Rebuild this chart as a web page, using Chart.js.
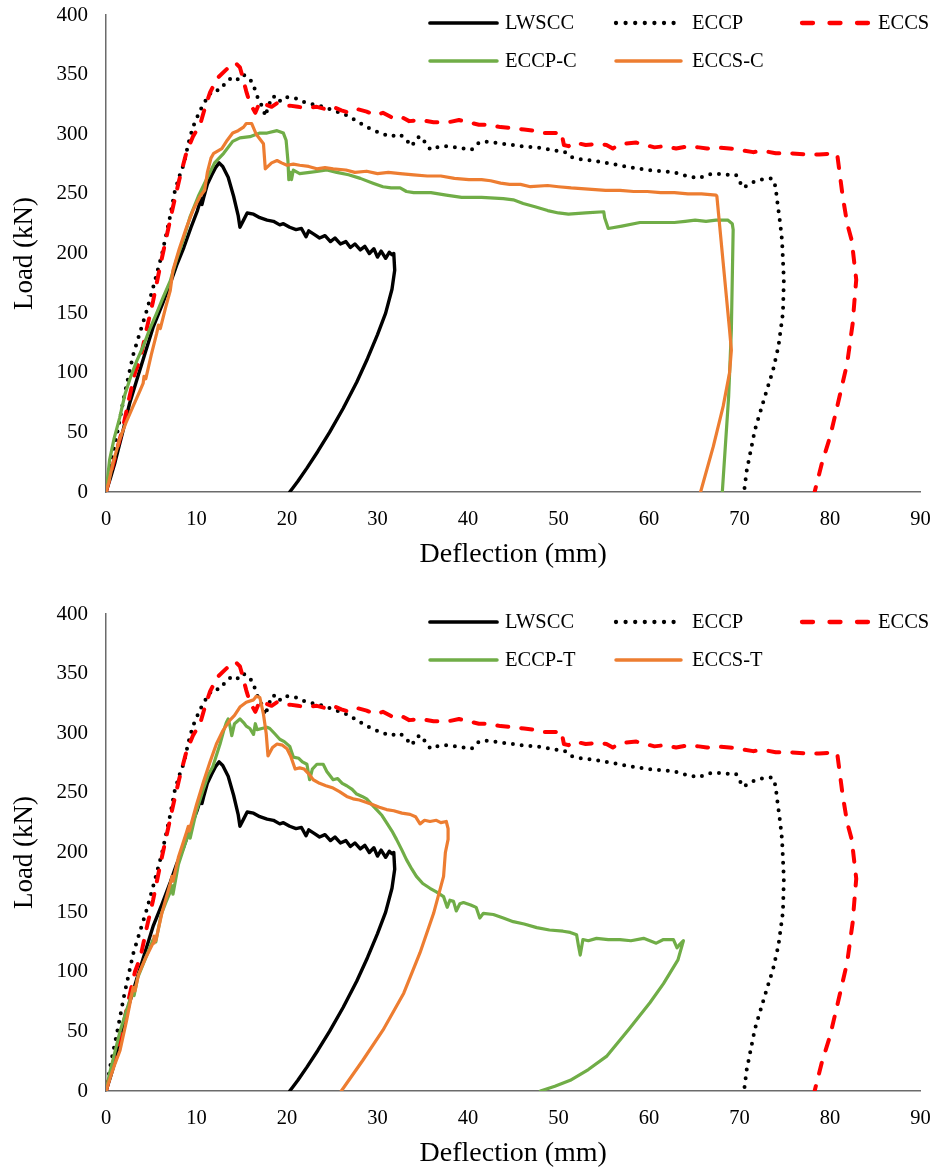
<!DOCTYPE html>
<html><head><meta charset="utf-8">
<script src="https://cdn.jsdelivr.net/npm/chart.js@4.4.1/dist/chart.umd.min.js"></script>
<style>
html,body{margin:0;padding:0;background:#fff;width:938px;height:1167px;overflow:hidden;position:relative;}
canvas{position:absolute;left:0;}
#c1{top:0}
#c2{top:599px}
</style></head><body>
<canvas id="c1" width="938" height="575"></canvas>
<canvas id="c2" width="938" height="575"></canvas>
<script>
// ---- tick labels ----
const xTicks = [0, 10, 20, 30, 40, 50, 60, 70, 80, 90];
const yTicks = [0, 50, 100, 150, 200, 250, 300, 350, 400];
const xTitle = 'Deflection (mm)';
const yTitle = 'Load (kN)';

// ---- series: [deflection (mm), load (kN)] ----
const lwscc = [[0,0],[0.5,12],[1.0,25],[1.9,52],[2.6,74],[3.4,94],[4.3,116],[5.2,138],[6.2,157],[7.1,175],[7.8,190],[8.6,205],[9.4,222],[10.1,236],[10.5,246],[10.6,241],[10.8,247],[11.2,258],[11.7,266],[12.1,272],[12.5,276],[12.9,273],[13.5,264],[14.1,248],[14.6,232],[14.8,222],[15.2,228],[15.6,234],[16.3,233],[17.0,230],[17.8,228],[18.5,227],[19.2,224],[19.6,225],[20.3,222],[21.0,220],[21.6,221],[22.1,214],[22.4,219],[23.0,216],[23.6,213],[24.2,215],[24.8,210],[25.3,213],[25.9,208],[26.5,210],[27.0,205],[27.5,208],[28.1,203],[28.6,206],[29.1,200],[29.6,204],[30.0,197],[30.4,202],[30.9,196],[31.3,201],[31.6,199],[31.8,200],[31.9,186],[31.6,170],[30.9,150],[30.0,132],[28.9,112],[27.7,92],[26.2,70],[24.7,50],[23.4,34],[22.2,20],[21.2,9],[20.6,3],[20.3,0]];

const eccp = [[0,0],[0.5,22],[1.2,48],[2.0,80],[3.0,115],[3.8,135],[4.5,152],[5.4,177],[6.2,200],[7.0,228],[7.6,252],[8.2,267],[8.6,275],[9.1,292],[9.6,306],[10.4,320],[11.2,331],[11.8,337],[12.6,337],[13.3,344],[14.0,348],[14.6,346],[15.1,350],[15.7,348],[16.2,343],[16.8,330],[17.4,321],[17.6,315],[18.0,325],[18.5,332],[19.1,327],[19.6,331],[20.3,331],[21.0,330],[21.9,327],[22.9,325],[24.0,323],[25.1,320],[26.3,317],[27.5,312],[28.8,306],[30.0,302],[31.4,298],[32.5,300],[33.2,295],[33.8,290],[34.3,297],[34.9,298],[35.4,291],[35.9,287],[36.6,289],[37.4,290],[38.7,289],[40.4,287],[41.0,292],[41.6,294],[42.8,293],[43.9,292],[45.8,290],[47.6,289],[49.2,287],[50.7,285],[51.3,281],[52.5,279],[53.7,278],[55.2,276],[56.7,274],[58.2,272],[59.8,270],[61.3,269],[62.8,268],[64.2,265],[65.5,263],[66.4,266],[67.4,267],[68.5,266],[69.6,266],[70.4,255],[71.2,259],[72.3,262],[73.6,263],[74.0,256],[74.1,248],[74.5,225],[74.7,211],[74.9,178],[74.8,150],[74.3,122],[73.7,102],[72.8,80],[71.7,52],[70.8,18],[70.5,0]];

const eccs = [[0,0],[0.6,18],[1.2,35],[1.9,55],[2.6,80],[3.2,100],[3.8,112],[4.5,137],[5.2,160],[6.0,190],[6.8,218],[7.4,239],[8.1,262],[8.9,285],[9.6,298],[10.4,308],[11.0,324],[11.5,335],[12.3,347],[13.4,355],[14.3,360],[14.8,356],[15.1,348],[15.5,336],[15.9,326],[16.5,318],[17.0,327],[17.6,325],[18.3,323],[18.9,326],[19.6,324],[20.3,324],[21.2,323],[22.2,322],[23.3,323],[24.3,321],[25.1,323],[26.0,320],[26.9,318],[27.8,321],[28.8,319],[29.8,316],[30.6,318],[31.6,314],[32.5,315],[33.5,311],[34.8,312],[36.2,310],[37.8,310],[39.0,312],[40.1,310],[41.2,308],[42.3,308],[43.6,306],[45.0,305],[46.2,304],[47.3,303],[48.4,301],[49.7,301],[50.3,302],[50.6,291],[51.1,290],[51.8,293],[53.0,291],[54.5,292],[55.3,291],[56.0,288],[56.6,291],[57.3,292],[58.6,293],[59.6,291],[60.6,289],[61.7,290],[63.0,288],[64.3,290],[65.5,289],[66.4,288],[67.4,289],[68.9,288],[70.0,287],[71.5,285],[72.7,286],[74.0,284],[75.7,284],[77.5,283],[78.8,283],[80.6,284],[80.8,283],[81.4,248],[81.9,225],[82.4,211],[82.9,178],[82.7,160],[82.5,141],[81.9,108],[80.9,75],[80.0,46],[79.1,24],[78.3,0]];

const eccpC = [[0,0],[0.4,27],[0.9,45],[1.5,62],[2.1,82],[2.7,96],[3.4,110],[4.1,122],[4.8,136],[5.6,150],[6.3,163],[7.1,177],[7.8,195],[8.6,213],[9.3,231],[10.2,248],[11.1,262],[12.0,276],[13.0,284],[14.0,294],[14.8,297],[15.9,298],[17.0,301],[17.8,301],[18.9,303],[19.6,301],[19.9,295],[20.1,278],[20.2,262],[20.4,268],[20.5,262],[20.7,270],[21.4,267],[22.5,268],[23.5,269],[24.4,270],[25.5,268],[26.8,266],[28.1,263],[29.5,259],[30.6,256],[31.5,255],[32.5,255],[33.2,252],[34.0,251],[35.9,251],[37.6,249],[39.3,247],[41.5,247],[43.9,246],[45.0,245],[46.1,242],[47.5,239],[48.8,236],[50.0,234],[51.1,233],[53.0,234],[55.0,235],[55.1,230],[55.5,221],[57.0,223],[59.0,226],[60.8,226],[62.8,226],[64.0,227],[65.1,228],[66.3,227],[67.4,228],[68.7,228],[69.2,225],[69.3,220],[69.1,136],[68.8,80],[68.1,0]];

const eccsC = [[0,0],[0.3,8],[0.8,25],[1.5,44],[2.2,58],[3.0,72],[3.7,84],[4.1,91],[4.2,97],[4.4,95],[5.0,115],[5.6,133],[5.8,140],[6.0,137],[6.6,155],[7.1,169],[7.4,186],[8.1,204],[8.9,222],[9.6,236],[10.4,248],[10.9,253],[11.2,268],[11.6,280],[11.9,284],[12.8,288],[13.4,295],[14.0,301],[14.6,303],[15.2,306],[15.5,309],[16.1,309],[16.6,300],[17.0,296],[17.4,292],[17.6,271],[18.3,276],[18.9,278],[19.4,276],[20.0,274],[20.7,275],[21.4,274],[22.4,273],[23.3,271],[24.2,272],[25.1,271],[26.5,270],[27.5,268],[28.8,269],[30.0,267],[31.2,268],[32.5,267],[34.0,266],[35.5,265],[37.0,265],[38.5,263],[40.1,262],[41.5,262],[42.5,261],[43.6,259],[44.6,258],[45.8,258],[46.9,256],[48.8,257],[50.0,256],[51.4,255],[53.3,254],[55.2,253],[56.8,253],[58.3,252],[59.8,252],[61.3,251],[62.8,251],[64.3,250],[65.8,250],[67.4,249],[67.5,248],[68.2,192],[68.9,136],[69.1,119],[68.9,100],[68.2,72],[67.1,38],[65.7,0]];

const eccpT = [[0,0],[0.4,15],[0.9,30],[1.55,50],[2.2,66],[2.8,80],[3.0,84],[3.1,80],[3.5,95],[4.3,110],[5.2,127],[5.5,125],[6.1,148],[6.6,158],[7.1,167],[7.3,172],[7.4,165],[8.0,190],[8.9,211],[9.2,216],[9.3,212],[10.0,235],[10.8,254],[11.3,265],[11.8,272],[12.6,291],[13.0,302],[13.3,309],[13.5,312],[13.7,306],[13.9,298],[14.2,308],[14.8,312],[15.2,309],[15.5,306],[15.9,304],[16.3,299],[16.5,308],[16.7,303],[17.2,304],[17.8,305],[18.1,304],[18.6,300],[19.2,295],[19.7,293],[20.3,289],[20.7,280],[21.3,279],[21.7,276],[22.2,274],[22.5,261],[22.8,270],[23.3,274],[24.0,274],[24.4,268],[25.1,261],[25.6,262],[26.1,258],[26.6,256],[27.2,253],[27.7,249],[28.3,247],[28.8,245],[29.4,240],[29.9,236],[30.5,231],[31.0,225],[31.6,218],[32.1,211],[32.7,202],[33.2,194],[33.8,186],[34.3,180],[35.0,174],[35.8,170],[36.5,167],[37.3,163],[37.7,154],[38.0,160],[38.4,159],[38.7,151],[39.1,157],[39.5,158],[40.3,156],[40.9,154],[41.3,145],[41.7,149],[42.8,148],[43.9,145],[45.0,142],[46.2,140],[47.6,137],[49.0,135],[50.5,134],[51.3,133],[52.0,131],[52.2,122],[52.4,114],[52.7,127],[53.3,126],[54.2,128],[55.5,127],[56.8,127],[58.0,126],[59.4,128],[60.1,126],[60.8,124],[61.6,127],[62.7,127],[63.1,120],[63.4,123],[63.8,126],[63.2,110],[61.6,90],[60.1,74],[57.8,52],[55.3,29],[53.3,18],[51.3,9],[49.6,4],[48.0,0]];

const eccsT = [[0,0],[0.5,12],[1.0,23],[1.55,34],[2.3,60],[3.0,87],[3.2,84],[3.6,98],[4.4,112],[5.2,124],[5.3,130],[5.5,126],[6.2,150],[7.1,174],[7.3,180],[7.4,176],[8.0,196],[8.9,217],[9.1,222],[9.2,218],[10.0,240],[10.8,260],[11.5,276],[12.2,291],[12.9,302],[13.7,311],[14.2,315],[14.8,322],[15.5,326],[16.3,328],[16.6,331],[17.0,330],[17.4,316],[17.7,300],[17.9,281],[18.4,288],[18.9,291],[19.5,290],[20.0,287],[20.4,281],[20.9,270],[21.4,271],[21.9,270],[22.4,266],[22.9,261],[23.6,258],[24.3,256],[25.1,254],[25.8,251],[26.6,247],[27.3,245],[28.0,244],[28.8,242],[29.5,240],[30.2,238],[31.0,236],[31.8,235],[32.7,233],[33.6,232],[34.2,230],[34.7,224],[35.2,227],[35.8,226],[36.5,227],[37.0,225],[37.6,226],[37.8,220],[37.8,211],[37.5,200],[37.3,180],[36.2,149],[34.7,116],[32.9,82],[30.6,51],[28.4,26],[27.2,13],[26.0,0]];

// ---- styling ----
const toPts = arr => arr.map(p => ({x: p[0], y: p[1]}));
function ds(label, arr, style, order) {
  return Object.assign({
    label, data: toPts(arr), showLine: true, pointRadius: 0, pointHoverRadius: 0,
    tension: 0, fill: false, borderJoinStyle: 'round', order
  }, style);
}
const sBlack  = {borderColor: '#000000', borderWidth: 3.4, borderCapStyle: 'round'};
const sDotted = {borderColor: '#000000', borderWidth: 4, borderDash: [0, 8.8], borderCapStyle: 'round', legendDash: [0, 9.6]};
const sDashed = {borderColor: '#FF0000', borderWidth: 4, borderDash: [11, 13], borderCapStyle: 'round', legendDash: [11, 16.5]};
const sGreen  = {borderColor: '#70AD47', borderWidth: 3.2, borderCapStyle: 'round'};
const sOrange = {borderColor: '#ED7D31', borderWidth: 3.2, borderCapStyle: 'round'};

const legendPlugin = {
  id: 'inLegend',
  afterDraw(chart) {
    const ctx = chart.ctx;
    const rowsY = [23, 61];
    const x0 = [430, 616, 802], x1 = [497, 681, 870], tx = [505, 692, 878];
    chart.data.datasets.forEach((d, i) => {
      const r = Math.floor(i / 3), c = i % 3, y = rowsY[r];
      ctx.save();
      ctx.strokeStyle = d.borderColor;
      ctx.lineWidth = d.borderWidth + 0.3;
      ctx.lineCap = d.borderCapStyle || 'butt';
      ctx.setLineDash(d.legendDash || d.borderDash || []);
      ctx.beginPath(); ctx.moveTo(x0[c], y); ctx.lineTo(x1[c], y); ctx.stroke();
      ctx.setLineDash([]);
      ctx.fillStyle = '#000';
      ctx.font = '20.5px "Liberation Serif"';
      ctx.textBaseline = 'middle'; ctx.textAlign = 'left';
      ctx.fillText(d.label, tx[c], y + 1);
      ctx.restore();
    });
  }
};

function makeChart(id, datasets) {
  return new Chart(document.getElementById(id), {
    type: 'scatter',
    data: {datasets},
    plugins: [legendPlugin],
    options: {
      responsive: false, animation: false, events: [],
      layout: {padding: {top: 15, right: 17.5, left: 0, bottom: 0}},
      plugins: {legend: {display: false}, tooltip: {enabled: false}},
      scales: {
        x: {
          type: 'linear', min: 0, max: 90,
          afterBuildTicks: s => { s.ticks = xTicks.map(v => ({value: v})); },
          afterFit: s => { s.height = 83; },
          grid: {display: false, drawTicks: true, tickLength: 9},
          border: {display: true, color: '#6b6b6b', width: 1.5},
          ticks: {padding: 6, color: '#000', font: {family: 'Liberation Serif', size: 20.5}, maxRotation: 0},
          title: {display: true, text: xTitle, color: '#000', font: {family: 'Liberation Serif', size: 28}, padding: {top: 0, bottom: 4}}
        },
        y: {
          type: 'linear', min: 0, max: 400,
          afterBuildTicks: s => { s.ticks = yTicks.map(v => ({value: v})); },
          afterFit: s => { s.width = 106; },
          grid: {display: false, drawTicks: true, tickLength: 16},
          border: {display: true, color: '#6b6b6b', width: 1.5},
          ticks: {padding: 2, color: '#000', font: {family: 'Liberation Serif', size: 21}},
          title: {display: true, text: yTitle, color: '#000', font: {family: 'Liberation Serif', size: 27}, padding: {top: 9, bottom: 0}}
        }
      }
    }
  });
}

makeChart('c1', [
  ds('LWSCC', lwscc, sBlack, 5),
  ds('ECCP', eccp, sDotted, 4),
  ds('ECCS', eccs, sDashed, 3),
  ds('ECCP-C', eccpC, sGreen, 2),
  ds('ECCS-C', eccsC, sOrange, 1)
]);
makeChart('c2', [
  ds('LWSCC', lwscc, sBlack, 5),
  ds('ECCP', eccp, sDotted, 4),
  ds('ECCS', eccs, sDashed, 3),
  ds('ECCP-T', eccpT, sGreen, 2),
  ds('ECCS-T', eccsT, sOrange, 1)
]);
</script>
</body></html>
